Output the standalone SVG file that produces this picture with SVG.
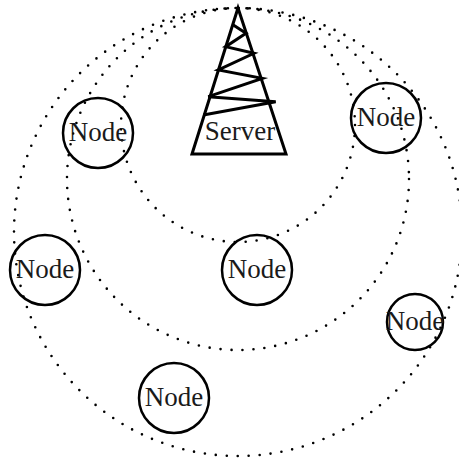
<svg xmlns="http://www.w3.org/2000/svg" width="459" height="460" viewBox="0 0 459 460">
<style>
.ring{fill:none;stroke:#000;stroke-width:2.6;stroke-linecap:round;stroke-dasharray:0 11}
.node{fill:none;stroke:#000;stroke-width:2.5}
.lbl{font-family:"Liberation Serif","DejaVu Serif",serif;font-size:27px;text-anchor:middle;fill:#1a1a1a}
.tower{fill:none;stroke:#000;stroke-width:3;stroke-linejoin:miter}
</style>
<rect width="459" height="460" fill="#fff"/>
<g id="connectors">
<circle class="ring" cx="238" cy="125" r="117"/>
<circle class="ring" cx="238" cy="179" r="171"/>
<circle class="ring" cx="238" cy="232" r="224"/>
</g>
<g id="server">
<path class="tower" d="M192,154 L238,8 L286,154 Z"/>
<polyline class="tower" points="233.3,25 246,33.3 225.7,46.7 254,53.3 218.3,70 262.3,78.3 208.3,96.7 275.7,101.7 203.3,115"/>
<text class="lbl" x="240" y="140">Server</text>
</g>
<g id="node1"><circle class="node" cx="98" cy="133" r="35"/><text class="lbl" x="98" y="141">Node</text></g>
<g id="node2"><circle class="node" cx="386" cy="118" r="35"/><text class="lbl" x="386" y="126">Node</text></g>
<g id="node3"><circle class="node" cx="45" cy="270" r="35"/><text class="lbl" x="45" y="278">Node</text></g>
<g id="node4"><circle class="node" cx="257" cy="270" r="35"/><text class="lbl" x="257" y="278">Node</text></g>
<g id="node5"><circle class="node" cx="415" cy="322" r="28"/><text class="lbl" x="415" y="330">Node</text></g>
<g id="node6"><circle class="node" cx="174" cy="398" r="35"/><text class="lbl" x="174" y="406">Node</text></g>
</svg>
